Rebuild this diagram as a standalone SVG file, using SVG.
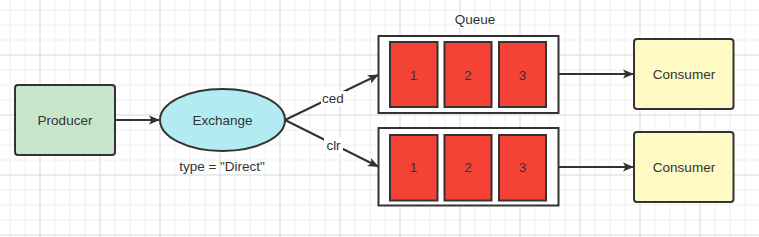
<svg xmlns="http://www.w3.org/2000/svg" width="759" height="237" viewBox="0 0 759 237">
<defs>
<pattern id="minor" width="15" height="15" patternUnits="userSpaceOnUse" x="9.5" y="9.5">
<path d="M0 0.5H15M0.5 0V15" fill="none" stroke="#efefef" stroke-width="1"/>
</pattern>
<pattern id="major" width="60" height="60" patternUnits="userSpaceOnUse" x="39.5" y="54.5">
<path d="M0 0.5H60M0.5 0V60" fill="none" stroke="#e0e0e0" stroke-width="1"/>
</pattern>
<marker id="arr" viewBox="0 0 11 10" refX="10" refY="5" markerWidth="11" markerHeight="10" markerUnits="userSpaceOnUse" orient="auto">
<path d="M0 0.5L11 5L0 9.5L2.5 5Z" fill="#333"/>
</marker>
<style>
.t{font-family:"Liberation Sans",Arial,sans-serif;font-size:13.5px;fill:#333;text-anchor:middle;dominant-baseline:central}
.box{stroke:#333;stroke-width:2}
.edge{fill:none;stroke:#333;stroke-width:2;marker-end:url(#arr)}
.cell{fill:#f44336;stroke:#333;stroke-width:2}
.lbl{fill:#fff}
</style>
</defs>
<rect width="759" height="237" fill="#fff"/>
<rect width="759" height="237" fill="url(#minor)"/>
<rect width="759" height="237" fill="url(#major)"/>

<g id="connectors">
<path class="edge" d="M115 120H159"/>
<path class="edge" d="M285 120L378 75"/>
<path class="edge" d="M285 120L378 166.5"/>
<path class="edge" d="M558 74H633"/>
<path class="edge" d="M558 167H633"/>
<rect class="lbl" x="321" y="91" width="25" height="15"/>
<text class="t" x="333" y="98.5">ced</text>
<rect class="lbl" x="324" y="138" width="19" height="15"/>
<text class="t" x="333.5" y="145.5">clr</text>
</g>

<g id="producer">
<rect class="box" x="15" y="85" width="100" height="70" rx="3" fill="#c8e6c9"/>
<text class="t" x="65" y="120">Producer</text>
</g>

<g id="exchange">
<ellipse class="box" cx="222.5" cy="120" rx="62.5" ry="31" fill="#b2ebf2"/>
<text class="t" x="222.5" y="120">Exchange</text>
<text class="t" x="222" y="166">type = "Direct"</text>
</g>

<g id="queue1">
<text class="t" x="475" y="19.5">Queue</text>
<rect class="box" x="378.5" y="36" width="180" height="77" fill="#fff"/>
<rect class="cell" x="390" y="42" width="47.5" height="65"/>
<rect class="cell" x="444.5" y="42" width="47" height="65"/>
<rect class="cell" x="499" y="42" width="47" height="65"/>
<text class="t" x="413.5" y="75">1</text>
<text class="t" x="468" y="75">2</text>
<text class="t" x="522.5" y="75">3</text>
</g>

<g id="queue2">
<rect class="box" x="378.5" y="128" width="180" height="77.5" fill="#fff"/>
<rect class="cell" x="390" y="135" width="47.5" height="65.5"/>
<rect class="cell" x="444.5" y="135" width="47" height="65.5"/>
<rect class="cell" x="499" y="135" width="47" height="65.5"/>
<text class="t" x="413.5" y="167.5">1</text>
<text class="t" x="468" y="167.5">2</text>
<text class="t" x="522.5" y="167.5">3</text>
</g>

<g id="consumer1">
<rect class="box" x="634" y="39" width="99.5" height="70" rx="3" fill="#fff9c4"/>
<text class="t" x="684" y="74">Consumer</text>
</g>

<g id="consumer2">
<rect class="box" x="634" y="132" width="99.5" height="70" rx="3" fill="#fff9c4"/>
<text class="t" x="684" y="167">Consumer</text>
</g>
</svg>
